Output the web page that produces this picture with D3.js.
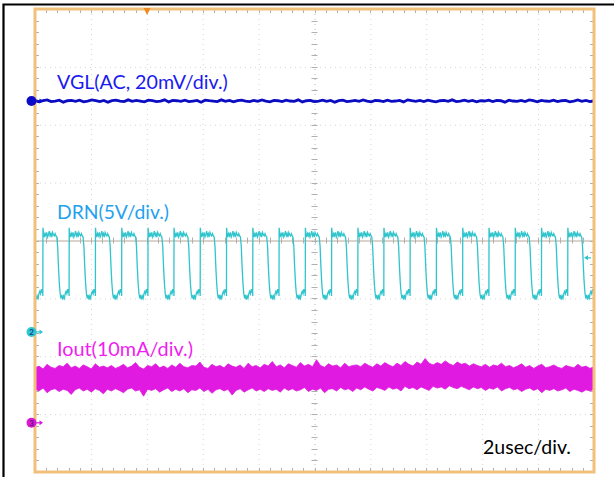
<!DOCTYPE html>
<html><head><meta charset="utf-8">
<script src="https://cdn.jsdelivr.net/npm/d3@7"></script>
<style>html,body{margin:0;padding:0;background:#fff;overflow:hidden}</style>
</head><body>
<svg id="c" width="614" height="477"></svg>
<script>
// ---------- data ----------
const timeDomain = [-10, 10];          // microseconds (2 us/div, 10 div)
const divDomain = [-4, 4];             // vertical divisions
const channelLabels = ["VGL(AC, 20mV/div.)", "DRN(5V/div.)", "Iout(10mA/div.)"];
const timebaseLabel = "2usec/div.";
const channelOffsetsDiv = [2.41, -1.58, -3.15];
const channelPerDiv = [20, 5, 10];     // mV, V, mA per division

// VGL (mV, AC coupled), evenly sampled across the screen
const vglMv = [0.2,-0.3,0.1,0.4,-0.2,0.0,0.3,-0.4,0.1,0.2,-0.1,0.3,-0.3,0.0,0.4,0.1,-0.2,0.2,-0.4,0.1,
0.3,0.0,-0.2,0.4,-0.1,0.2,0.0,-0.3,0.3,0.1,-0.2,0.0,0.4,-0.3,0.2,0.1,-0.1,0.3,-0.2,0.0,
0.2,-0.4,0.3,0.1,0.0,-0.2,0.4,-0.1,0.2,-0.3,0.1,0.3,0.0,-0.2,0.2,-0.1,0.4,0.0,-0.3,0.2,
0.1,-0.2,0.3,0.0,-0.1,0.4,-0.3,0.1,0.2,-0.2,0.0,0.3,-0.1,0.2,-0.4,0.1,0.3,-0.2,0.0,0.2,
-0.1,0.4,0.0,-0.3,0.2,0.1,-0.2,0.3,-0.1,0.0,0.2,-0.3,0.4,0.1,-0.1,0.2,-0.2,0.3,0.0,-0.3,
0.1,0.2,-0.1,0.4,-0.2,0.0,0.3,-0.1,0.2,-0.3,0.1,0.0,0.3,-0.2,0.2,0.1,-0.4,0.3,0.0,-0.1,
0.2,-0.2,0.4,0.1,-0.3,0.2,0.0,-0.1,0.3,-0.2,0.1,0.2,-0.3,0.0,0.4,-0.1,0.2,-0.2,0.1];

// DRN rising-edge times (us)
const drnEdgesUs = [-10.66,-9.72,-8.78,-7.84,-6.90,-5.96,-5.03,-4.09,-3.15,-2.21,-1.27,-0.33,
0.61,1.55,2.48,3.42,4.36,5.30,6.24,7.18,8.12,9.06];
// DRN one-period shape after a rising edge: [us after edge, volts]
const drnPeriodShape = [[0,3.1],[0.004,9.0],[0.02,8.6],[0.05,8.2],[0.08,8.5],[0.11,8.3],[0.14,8.6],
[0.17,8.2],[0.20,8.4],[0.23,8.7],[0.26,8.3],[0.29,8.5],[0.32,8.2],[0.35,8.6],[0.38,8.4],[0.41,8.3],
[0.44,8.5],[0.47,8.3],[0.50,8.2],[0.53,7.4],[0.56,5.6],[0.59,4.2],[0.62,3.3],[0.65,2.9],[0.68,3.2],
[0.71,2.8],[0.74,3.1],[0.77,2.9],[0.80,3.3],[0.83,3.5],[0.86,3.3],[0.89,3.7],[0.92,3.4],[0.935,3.6]];

// Iout envelope (mA), evenly sampled
const ioutUpperMa = [9.5,9.8,9.3,10.1,9.6,9.4,9.9,9.7,10.3,9.5,9.8,9.4,10.0,9.7,9.3,10.2,9.6,9.8,9.5,9.9,
9.4,9.7,10.1,9.5,9.8,10.4,9.6,9.3,9.9,9.7,10.2,9.5,9.8,9.4,10.0,9.6,10.3,9.7,9.5,9.9,
9.8,10.5,9.6,9.4,10.1,9.7,9.9,9.5,10.2,9.8,9.6,10.0,9.4,10.3,9.7,9.9,9.5,10.1,9.8,10.6,
9.7,10.0,9.5,10.2,9.9,9.6,10.4,9.8,10.1,9.7,10.9,9.9,9.6,10.2,9.8,10.0,9.5,10.3,9.7,9.9,
10.0,9.7,10.3,9.9,9.6,10.2,9.8,10.4,10.0,9.7,10.3,9.9,10.6,10.1,9.8,10.5,10.1,11.1,10.3,10.0,
10.4,10.1,10.7,10.2,9.9,10.5,10.1,10.3,9.8,10.2,9.9,9.7,10.1,9.6,10.0,9.8,10.3,9.7,9.9,9.5,
9.8,10.2,9.6,9.9,9.4,9.8,10.1,9.5,9.7,10.0,9.6,9.4,9.9,9.7,9.5,10.1,9.6,9.8,9.4,9.7];
const ioutLowerMa = [5.8,5.5,6.0,5.2,5.7,5.9,5.4,5.8,5.6,4.9,5.7,6.0,5.5,5.8,5.3,5.9,5.6,5.0,5.8,5.5,
5.9,5.6,5.2,5.8,6.0,5.5,5.7,4.6,5.8,5.6,5.9,5.3,5.7,6.0,5.4,5.8,5.5,5.9,5.2,5.7,
5.6,6.0,5.4,5.8,5.1,5.7,5.9,5.5,5.8,4.8,5.6,5.9,5.3,5.7,6.0,5.5,5.8,5.4,5.9,5.6,
5.8,5.3,6.0,5.6,5.9,5.5,5.7,6.1,5.4,5.8,5.6,6.0,5.2,5.8,5.9,5.5,6.1,5.7,5.9,5.4,
6.0,5.7,6.2,5.8,5.5,6.1,5.9,5.6,6.2,5.8,6.0,5.5,6.3,5.9,6.1,5.7,6.2,5.9,5.6,6.3,
6.0,6.2,5.8,6.4,6.1,5.9,6.3,6.0,5.7,6.2,5.9,6.1,5.6,6.0,5.8,6.2,5.5,5.9,6.1,5.7,
5.9,5.4,5.8,6.0,5.6,5.9,5.2,5.8,5.6,5.9,5.5,5.7,6.0,5.4,5.8,5.6,5.3,5.7,5.5,5.8];

const triggerTimeUs = -5.99;
const drnTriggerLevelV = 6.4;

// ---------- drawing ----------
const svg = d3.select("#c");
const L = 35, R = 594, T = 9, B = 472;
const x = d3.scaleLinear().domain(timeDomain).range([L, R]);
const y = d3.scaleLinear().domain(divDomain).range([B, T]);
const chY = (ch, v) => y(channelOffsetsDiv[ch] + v / channelPerDiv[ch]);

// outer black frame (left & top visible)
svg.append("path").attr("d", "M3.5,480 V4.5 H620").attr("fill", "none")
  .attr("stroke", "#000").attr("stroke-width", 2.2);

// grid
const g = svg.append("g");
const majorX = d3.range(-8, 10, 2), majorY = d3.range(-3, 4, 1);
g.selectAll(".gx").data(majorX).join("line")
  .attr("x1", d => x(d) + 0.5).attr("x2", d => x(d) + 0.5).attr("y1", T).attr("y2", B)
  .attr("stroke", d => d === 0 ? "#b8b8b8" : "#d6d6d6").attr("stroke-dasharray", "1,4");
g.selectAll(".gy").data(majorY.filter(d => d !== 0)).join("line")
  .attr("y1", d => y(d) + 0.5).attr("y2", d => y(d) + 0.5).attr("x1", L).attr("x2", R)
  .attr("stroke", "#d6d6d6").attr("stroke-dasharray", "1,4");
g.append("line").attr("x1", L).attr("x2", R).attr("y1", y(0) + 0.5).attr("y2", y(0) + 0.5)
  .attr("stroke", "#b7a898").attr("stroke-width", 1);

// minor ticks
const minorX = d3.range(-10, 10.001, 0.4).map(v => +v.toFixed(2));
const minorY = d3.range(-4, 4.001, 0.2).map(v => +v.toFixed(2));
const tk = svg.append("g").attr("stroke", "#b0b0b0").attr("stroke-width", 1);
minorX.forEach(t => {
  const px = Math.round(x(t)) + 0.5;
  tk.append("line").attr("x1", px).attr("x2", px).attr("y1", T).attr("y2", T + 4);
  tk.append("line").attr("x1", px).attr("x2", px).attr("y1", B - 4).attr("y2", B);
  tk.append("line").attr("x1", px).attr("x2", px).attr("y1", y(0) - 3).attr("y2", y(0) + 3);
});
minorY.forEach(v => {
  const py = Math.round(y(v)) + 0.5;
  tk.append("line").attr("y1", py).attr("y2", py).attr("x1", L).attr("x2", L + 4);
  tk.append("line").attr("y1", py).attr("y2", py).attr("x1", R - 4).attr("x2", R);
  tk.append("line").attr("y1", py).attr("y2", py).attr("x1", x(0) - 3).attr("x2", x(0) + 3);
});

// clip
svg.append("clipPath").attr("id", "clip").append("rect")
  .attr("x", L).attr("y", T).attr("width", R - L).attr("height", B - T);
const plot = svg.append("g").attr("clip-path", "url(#clip)");

// VGL
const xi = n => d3.scaleLinear().domain([0, n - 1]).range(timeDomain);
const xv = xi(vglMv.length);
plot.append("path").datum(vglMv)
  .attr("d", d3.line().x((d, i) => x(xv(i))).y(d => chY(0, d)))
  .attr("fill", "none").attr("stroke", "#0c0cc0").attr("stroke-width", 2.8);

// DRN
const drnPts = [];
drnEdgesUs.forEach(e => drnPeriodShape.forEach(([dt, v]) => drnPts.push([e + dt, v])));
plot.append("path").datum(drnPts)
  .attr("d", d3.line().x(d => x(d[0])).y(d => chY(1, d[1])))
  .attr("fill", "none").attr("stroke", "#30c4cc").attr("stroke-width", 1.3);

// Iout
const xu = xi(ioutUpperMa.length);
plot.append("path").datum(ioutUpperMa.map((u, i) => [u, ioutLowerMa[i]]))
  .attr("d", d3.area().x((d, i) => x(xu(i))).y0(d => chY(2, d[1])).y1(d => chY(2, d[0])))
  .attr("fill", "#e01ae0").attr("stroke", "#e01ae0").attr("stroke-width", 0.8);

// orange screen border
svg.append("rect").attr("x", L).attr("y", T).attr("width", R - L).attr("height", B - T)
  .attr("fill", "none").attr("stroke", "#f2c07a").attr("stroke-width", 3);

// trigger position marker
const tx = x(triggerTimeUs);
svg.append("path").attr("d", `M${tx - 3.5},${T - 1} L${tx + 3.5},${T - 1} L${tx},${T + 6} Z`).attr("fill", "#f08a20");

// trigger level marker (right side)
const ty = chY(1, drnTriggerLevelV);
svg.append("path").attr("d", `M${R - 10},${ty} L${R - 6},${ty - 2.5} L${R - 6},${ty + 2.5} Z`).attr("fill", "#30c4cc");
svg.append("line").attr("x1", R - 7).attr("x2", R - 3).attr("y1", ty).attr("y2", ty).attr("stroke", "#30c4cc").attr("stroke-width", 1.2);

// channel ground markers
const markerColors = ["#0c0cc8", "#2ec8d0", "#d81ad8"];
const markerText = ["1", "2", "3"];
const markerTextColor = ["#0c0cc8", "#1a3a8a", "#6a106a"];
[0, 1, 2].forEach(ch => {
  const my = chY(ch, 0);
  svg.append("line").attr("x1", 34).attr("x2", 41).attr("y1", my).attr("y2", my)
    .attr("stroke", markerColors[ch]).attr("stroke-width", 1.2);
  svg.append("path").attr("d", `M43,${my} L39.5,${my - 2.5} L39.5,${my + 2.5} Z`).attr("fill", markerColors[ch]);
  svg.append("circle").attr("cx", 31.5).attr("cy", my).attr("r", 5).attr("fill", markerColors[ch]);
  svg.append("text").attr("x", 31.5).attr("y", my + 2.8).attr("text-anchor", "middle")
    .attr("font-family", "Lato, sans-serif").attr("font-size", 8).attr("font-weight", "bold")
    .attr("fill", markerTextColor[ch]).text(markerText[ch]);
});

// labels
function fit(sel, target) {
  const w = sel.node().getComputedTextLength();
  sel.attr("font-size", parseFloat(sel.attr("font-size")) * target / w);
}
const labelSpecs = [
  { text: channelLabels[0], x: 57, y: 89, w: 171, c: "#1a1af0" },
  { text: channelLabels[1], x: 57, y: 219, w: 112, c: "#1fa2ee" },
  { text: channelLabels[2], x: 57, y: 356, w: 136, c: "#f01ef0" },
  { text: timebaseLabel, x: 483, y: 454, w: 88, c: "#000" }
];
labelSpecs.forEach(s => {
  const t = svg.append("text").attr("x", s.x).attr("y", s.y)
    .attr("font-family", "Lato, 'Noto Sans', sans-serif").attr("font-size", 18)
    .attr("fill", s.c).text(s.text);
  fit(t, s.w);
});
</script>
</body></html>
